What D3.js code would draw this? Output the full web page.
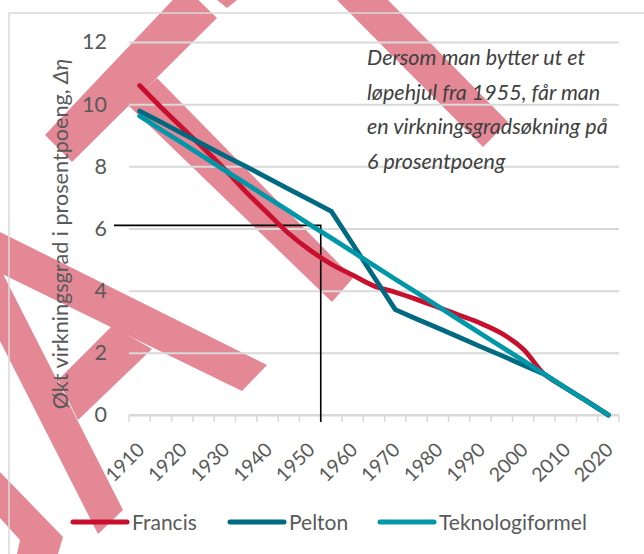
<!DOCTYPE html>
<html>
<head>
<meta charset="utf-8">
<script src="https://cdn.jsdelivr.net/npm/d3@7"></script>
<style>
  body { margin: 0; background: #fff; }
  svg { display: block; font-family: Lato, "Open Sans", sans-serif; }
</style>
</head>
<body>
<div id="chart"></div>
<script>
// data
const years = [1910, 1915, 1920, 1925, 1930, 1935, 1940, 1945, 1950, 1955, 1960, 1965,
               1970, 1975, 1980, 1985, 1990, 1995, 2000, 2005, 2010, 2015, 2020];
const xLabels = [1910, 1920, 1930, 1940, 1950, 1960, 1970, 1980, 1990, 2000, 2010, 2020];
const yTicks = [0, 2, 4, 6, 8, 10, 12];

const francis = [10.6, 9.9, 9.24, 8.58, 7.9, 7.17, 6.5, 5.84, 5.3, 4.85, 4.5, 4.15,
                 3.95, 3.72, 3.47, 3.21, 2.95, 2.62, 2.12, 1.31, 0.87, 0.44, 0];
const pelton = [9.78, 9.42, 9.06, 8.7, 8.34, 7.99, 7.63, 7.27, 6.91, 6.55, 5.5, 4.44,
                3.39, 3.09, 2.8, 2.5, 2.2, 1.91, 1.61, 1.31, 0.87, 0.44, 0];
const teknologi = [9.62, 9.18, 8.75, 8.31, 7.87, 7.44, 7.0, 6.56, 6.12, 5.69, 5.25, 4.81,
                   4.37, 3.94, 3.5, 3.06, 2.62, 2.19, 1.75, 1.31, 0.87, 0.44, 0];

const seriesNames = ['Francis', 'Pelton', 'Teknologiformel'];
const refYear = 1955;
const refValue = 6.1;

const annotationLines = ['Dersom man bytter ut et', 'løpehjul fra 1955, får man',
                         'en virkningsgradsøkning på', '6 prosentpoeng'];

// pink stamp in the background (decoration, pixel polygons)
const stamp = [
  [[45, 135], [72, 162], [217, 18], [185, -13]],
  [[128, 105], [157, 78], [353, 278], [332, 302]],
  [[337, 0], [388, 0], [508, 122], [483, 147]],
  [[217, 0], [237, 0], [227, 8]],
  [[0, 232], [267, 365], [242, 391], [0, 273]],
  [[0, 268], [123, 510], [98, 534], [0, 341]],
  [[58, 380], [112, 326], [152, 349], [78, 420]],
  [[0, 472], [63, 537], [58, 554], [17, 554], [20, 540], [0, 518]]
];

var width = 644;
var height = 554;
var plotLeft = 129, plotRight = 619, plotTop = 42, plotBottom = 415;

var colors = ['#c8102e', '#006a80', '#0098a8'];

var svg = d3.select('#chart').append('svg')
    .attr('width', width)
    .attr('height', height);

svg.append('g').selectAll('polygon')
    .data(stamp)
    .join('polygon')
    .attr('points', d => d.map(p => p.join(',')).join(' '))
    .attr('fill', '#e48896');

// chart border
svg.append('rect')
    .attr('x', 9).attr('y', 13)
    .attr('width', 700).attr('height', 600)
    .attr('fill', 'none')
    .attr('stroke', '#d9d9d9')
    .attr('stroke-width', 1.5);

var x = d3.scaleBand()
    .domain(years)
    .range([plotLeft, plotRight])
    .padding(0);

var y = d3.scaleLinear()
    .domain([0, 12])
    .range([plotBottom, plotTop]);

var xc = d => x(d) + x.bandwidth() / 2;

// gridlines + y labels
var yaxis = d3.axisLeft(y)
    .tickValues(yTicks)
    .tickSize(-(plotRight - plotLeft))
    .tickPadding(22);

var gy = svg.append('g')
    .attr('transform', 'translate(' + plotLeft + ',0)')
    .call(yaxis);
gy.select('.domain').remove();
gy.selectAll('.tick line').attr('stroke', '#d9d9d9').attr('stroke-width', 2);
gy.selectAll('.tick text')
    .attr('fill', '#595959')
    .style('font-size', '21.5px')
    .style('font-family', 'Lato');

// x axis with ticks between categories
var gx = svg.append('g')
    .attr('transform', 'translate(0,' + plotBottom + ')');
gx.append('line')
    .attr('x1', plotLeft).attr('x2', plotRight)
    .attr('stroke', '#d9d9d9').attr('stroke-width', 2);
gx.selectAll('.tk')
    .data(years.concat(['end']))
    .join('line')
    .attr('class', 'tk')
    .attr('x1', d => d === 'end' ? plotRight : x(d))
    .attr('x2', d => d === 'end' ? plotRight : x(d))
    .attr('y1', 0).attr('y2', 7)
    .attr('stroke', '#d9d9d9').attr('stroke-width', 1.5);
gx.selectAll('.lbl')
    .data(xLabels)
    .join('text')
    .attr('class', 'lbl')
    .attr('text-anchor', 'end')
    .attr('transform', d => 'translate(' + (xc(d) + 6) + ',36) rotate(-45)')
    .attr('fill', '#595959')
    .style('font-size', '19.5px')
    .text(d => d);

// y title
var title = svg.append('text')
    .attr('transform', 'translate(68,' + 234 + ') rotate(-90)')
    .attr('text-anchor', 'middle')
    .attr('fill', '#595959')
    .style('font-size', '21.6px')
    .text('Økt virkningsgrad i prosentpoeng, ');
title.append('tspan').style('font-style', 'italic').text('Δη');

// reference line for 1955
svg.append('path')
    .attr('d', 'M' + (plotLeft - 15) + ',' + y(refValue) + 'H' + x(refYear) + 'V' + (plotBottom + 7))
    .attr('fill', 'none')
    .attr('stroke', '#000')
    .attr('stroke-width', 1.6);

// series
var allSeries = [francis, pelton, teknologi];
allSeries.forEach(function (vals, i) {
    var line = d3.line()
        .x((d, j) => xc(years[j]))
        .y(d => y(d))
        .curve(i === 0 ? d3.curveCatmullRom.alpha(0.5) : d3.curveLinear);
    svg.append('path')
        .datum(vals)
        .attr('d', line)
        .attr('fill', 'none')
        .attr('stroke', colors[i])
        .attr('stroke-width', 4.8)
        .attr('stroke-linecap', 'round')
        .attr('stroke-linejoin', 'round');
});

// annotation
svg.append('g').selectAll('text')
    .data(annotationLines)
    .join('text')
    .attr('x', 367)
    .attr('y', (d, i) => 65 + i * 34.5)
    .attr('fill', '#404040')
    .style('font-size', '21.5px')
    .style('font-style', 'italic')
    .text(d => d);

// legend
var legendX = [73, 230, 380];
var lg = svg.append('g').attr('transform', 'translate(0,522)');
seriesNames.forEach(function (name, i) {
    lg.append('line')
        .attr('x1', legendX[i]).attr('x2', legendX[i] + 54)
        .attr('stroke', colors[i])
        .attr('stroke-width', 5)
        .attr('stroke-linecap', 'round');
    lg.append('text')
        .attr('x', legendX[i] + 59)
        .attr('y', 7.5)
        .attr('fill', '#595959')
        .style('font-size', '21px')
        .text(name);
});
</script>
</body>
</html>
